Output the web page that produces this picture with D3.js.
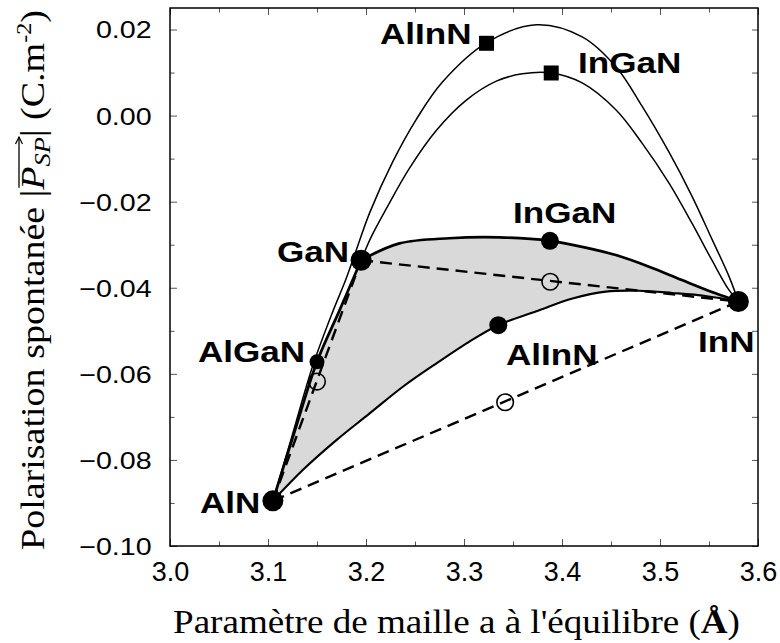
<!DOCTYPE html>
<html><head><meta charset="utf-8">
<script src="https://cdn.jsdelivr.net/npm/d3@7"></script>
<style>body{margin:0;background:#fff}</style>
</head><body><svg id="c" width="780" height="643"></svg>
<script>
// ---------- DATA ----------
const AlN = [3.105, -0.0895];
const GaN = [3.195, -0.0336];
const InN = [3.580, -0.0432];

// thin curve AlN -> InN through the AlInN square
const thinAlInN = [AlN,[3.1242,-0.0747],[3.1456,-0.0582],[3.1660,-0.0456],[3.1792,-0.0382],[3.1894,-0.0317],
  [3.2037,-0.0226],[3.2271,-0.0108],[3.2515,-0.0008],[3.2780,0.0078],[3.3228,0.0169],[3.3737,0.0211],
  [3.4206,0.0183],[3.4552,0.0113],[3.4817,0.0022],[3.5092,-0.0085],[3.5326,-0.0187],[3.5530,-0.0287],
  [3.5703,-0.0373],InN];
// thin curve GaN -> InN through the InGaN square
const thinInGaN = [GaN,[3.2057,-0.0280],[3.2210,-0.0215],[3.2444,-0.0122],[3.2719,-0.0034],[3.3024,0.0036],
  [3.3330,0.0080],[3.3595,0.0097],[3.3890,0.0099],[3.4206,0.0076],[3.4552,0.0013],[3.4817,-0.0064],
  [3.5092,-0.0157],[3.5326,-0.0250],[3.5530,-0.0336],[3.5703,-0.0405],InN];
// thick curves
const thickAlGaN = [AlN,[3.1273,-0.0733],[3.150,-0.0572],[3.1731,-0.0452],GaN];
const thickInGaN = [GaN,[3.2342,-0.0297],[3.2851,-0.0285],[3.3360,-0.0283],[3.3877,-0.0291],[3.4206,-0.0305],
  [3.4549,-0.0324],[3.4888,-0.0351],[3.5224,-0.0382],[3.5567,-0.0413],InN];
const thickAlInN = [AlN,[3.1357,-0.0823],[3.1698,-0.0754],[3.2037,-0.0692],[3.2376,-0.0630],[3.2716,-0.0576],
  [3.3055,-0.0525],[3.335,-0.0487],[3.3768,-0.0452],[3.4107,-0.0425],[3.4447,-0.0409],[3.4786,-0.0407],
  [3.5125,-0.0412],[3.5465,-0.0419],InN];
// straight (linear) dashed lines
const dashAlGaN = [AlN, GaN];
const dashInGaN = [GaN, InN];
const dashAlInN = [AlN, InN];

const binaryPts = [AlN, GaN, InN];
const filledPts = [[3.3877,-0.0291],[3.335,-0.0487]];
const filledSmallPts = [[3.150,-0.0572]];
const openPts = [[3.150,-0.0618],[3.388,-0.0386],[3.342,-0.0666]];
const squarePts = [[3.323,0.0168],[3.389,0.0099]];

const labelNames = ["AlInN","InGaN","InGaN","GaN","AlGaN","AlN","InN","AlInN"];

const xTicks = [3.0,3.1,3.2,3.3,3.4,3.5,3.6];
const xMinor = [3.05,3.15,3.25,3.35,3.45,3.55];
const yTicks = [-0.10,-0.08,-0.06,-0.04,-0.02,0.00,0.02];
const yMinor = [-0.09,-0.07,-0.05,-0.03,-0.01,0.01];

// ---------- LAYOUT ----------
const L=170, R=758, T=8, B=546;
const svg = d3.select("#c");
const x = d3.scaleLinear().domain([3.0,3.6]).range([L,R]);
const y = d3.scaleLinear().domain([-0.10,0.025]).range([B,T]);
const line = d3.line().x(d=>x(d[0])).y(d=>y(d[1])).curve(d3.curveCatmullRom.alpha(0.5));
const straight = d3.line().x(d=>x(d[0])).y(d=>y(d[1]));

// gray region
const fillPath = line(thickAlGaN) + line(thickInGaN).replace(/^M/,"L") +
  line(thickAlInN.slice().reverse()).replace(/^M/,"L") + "Z";
svg.append("path").attr("d",fillPath).attr("fill","#d9d9d9").attr("stroke","none");

// axes / ticks
const tickStyle = g => { g.select(".domain").remove(); g.selectAll("line").attr("stroke","#555").attr("stroke-width",1); };
const ys = 1.22;
svg.append("g").attr("transform",`translate(${L},0)`)
  .call(d3.axisLeft(y).tickValues(yTicks).tickSize(-7).tickFormat(d3.format(".2f")))
  .call(tickStyle)
  .call(g=>g.selectAll("text").attr("x",-18.3/ys).attr("dy","0.36em").attr("transform",`scale(${ys},1)`)
     .attr("font-family","Liberation Sans, Arial, sans-serif").attr("font-size",23.5).attr("fill","#000"));
svg.append("g").attr("transform",`translate(${L},0)`)
  .call(d3.axisLeft(y).tickValues(yMinor).tickSize(-4.5).tickFormat("")).call(tickStyle);
svg.append("g").attr("transform",`translate(${R},0)`)
  .call(d3.axisRight(y).tickValues(yTicks.concat(yMinor)).tickSize(-6).tickFormat("")).call(tickStyle);
svg.append("g").attr("transform",`translate(0,${B})`)
  .call(d3.axisBottom(x).tickValues(xTicks).tickSize(-7).tickFormat(d3.format(".1f")))
  .call(tickStyle)
  .call(g=>g.selectAll("text").attr("y",34.5).attr("dy",0)
     .attr("font-family","Liberation Sans, Arial, sans-serif").attr("font-size",27).attr("fill","#000"));
svg.append("g").attr("transform",`translate(0,${B})`)
  .call(d3.axisBottom(x).tickValues(xMinor).tickSize(-4.5).tickFormat("")).call(tickStyle);
svg.append("g").attr("transform",`translate(0,${T})`)
  .call(d3.axisTop(x).tickValues(xTicks).tickSize(-7).tickFormat("")).call(tickStyle);
svg.append("g").attr("transform",`translate(0,${T})`)
  .call(d3.axisTop(x).tickValues(xMinor).tickSize(-4.5).tickFormat("")).call(tickStyle);
svg.append("rect").attr("x",L).attr("y",T).attr("width",R-L).attr("height",B-T)
  .attr("fill","none").attr("stroke","#000").attr("stroke-width",1.5);

// dashed lines
[dashAlGaN,dashInGaN,dashAlInN].forEach(d=>svg.append("path").attr("d",straight(d))
  .attr("fill","none").attr("stroke","#000").attr("stroke-width",2.4).attr("stroke-dasharray","12,7"));
// thin curves
[thinAlInN,thinInGaN].forEach(d=>svg.append("path").attr("d",line(d))
  .attr("fill","none").attr("stroke","#000").attr("stroke-width",1.5));
// thick curves
svg.append("path").attr("d",line(thickAlGaN)).attr("fill","none").attr("stroke","#000").attr("stroke-width",2.7);
svg.append("path").attr("d",line(thickInGaN)).attr("fill","none").attr("stroke","#000").attr("stroke-width",2.7);
svg.append("path").attr("d",line(thickAlInN)).attr("fill","none").attr("stroke","#000").attr("stroke-width",2.1);

// markers
svg.selectAll(".op").data(openPts).join("circle").attr("cx",d=>x(d[0])).attr("cy",d=>y(d[1]))
  .attr("r",8.3).attr("fill","none").attr("stroke","#000").attr("stroke-width",1.6);
svg.selectAll(".bp").data(binaryPts).join("circle").attr("cx",d=>x(d[0])).attr("cy",d=>y(d[1]))
  .attr("r",10.5).attr("fill","#000");
svg.selectAll(".fp").data(filledPts).join("circle").attr("cx",d=>x(d[0])).attr("cy",d=>y(d[1]))
  .attr("r",9).attr("fill","#000");
svg.selectAll(".fs").data(filledSmallPts).join("circle").attr("cx",d=>x(d[0])).attr("cy",d=>y(d[1]))
  .attr("r",7.5).attr("fill","#000");
svg.selectAll(".sq").data(squarePts).join("rect").attr("x",d=>x(d[0])-7.5).attr("y",d=>y(d[1])-7.5)
  .attr("width",15).attr("height",15).attr("fill","#000");

// in-plot labels
const labelPos = [[380,44],[578,73],[513,223],[277,262],[198,362],[200,513],[698,352],[506,365]];
labelNames.forEach((n,i)=>{
  svg.append("text").attr("transform",`translate(${labelPos[i][0]},${labelPos[i][1]}) scale(1.21,1)`)
    .attr("font-family","Liberation Sans, Arial, sans-serif").attr("font-weight","bold")
    .attr("font-size",29).attr("fill","#000").text(n);
});

// x title
const xt = svg.append("text").attr("x",456.5).attr("y",633).attr("text-anchor","middle")
  .attr("font-family","Liberation Serif, Times New Roman, serif").attr("font-size",33)
  .attr("textLength",567).attr("lengthAdjust","spacingAndGlyphs").attr("fill","#000");
xt.append("tspan").text("Paramètre de maille a à l'équilibre (");
xt.append("tspan").attr("font-weight","bold").text("Å");
xt.append("tspan").text(")");

// y title
const yg = svg.append("g").attr("transform","translate(44,280) rotate(-90)");
const yt = yg.append("text").attr("x",0).attr("y",0).attr("text-anchor","middle")
  .attr("font-family","Liberation Serif, Times New Roman, serif").attr("font-size",33)
  .attr("textLength",540).attr("lengthAdjust","spacingAndGlyphs").attr("fill","#000");
yt.append("tspan").text("Polarisation spontanée |");
yt.append("tspan").attr("font-style","italic").text("P");
yt.append("tspan").attr("font-style","italic").attr("font-size",23).attr("dy",6).text("SP");
yt.append("tspan").attr("dy",-6).text("| (C.m");
yt.append("tspan").attr("font-size",21).attr("dy",-13).text("-2");
yt.append("tspan").attr("dy",13).text(")");
try {
  const nd = yt.node();
  const s = nd.getStartPositionOfChar(24), e = nd.getEndPositionOfChar(26);
  const ay = -25;
  yg.append("path").attr("d",`M${s.x+2},${ay}L${e.x},${ay}`).attr("stroke","#000").attr("stroke-width",1.3).attr("fill","none");
  yg.append("path").attr("d",`M${e.x-7},${ay-3.5}L${e.x},${ay}L${e.x-7},${ay+3.5}`).attr("stroke","#000").attr("stroke-width",1.2).attr("fill","none");
} catch(err) {}
</script></body></html>
